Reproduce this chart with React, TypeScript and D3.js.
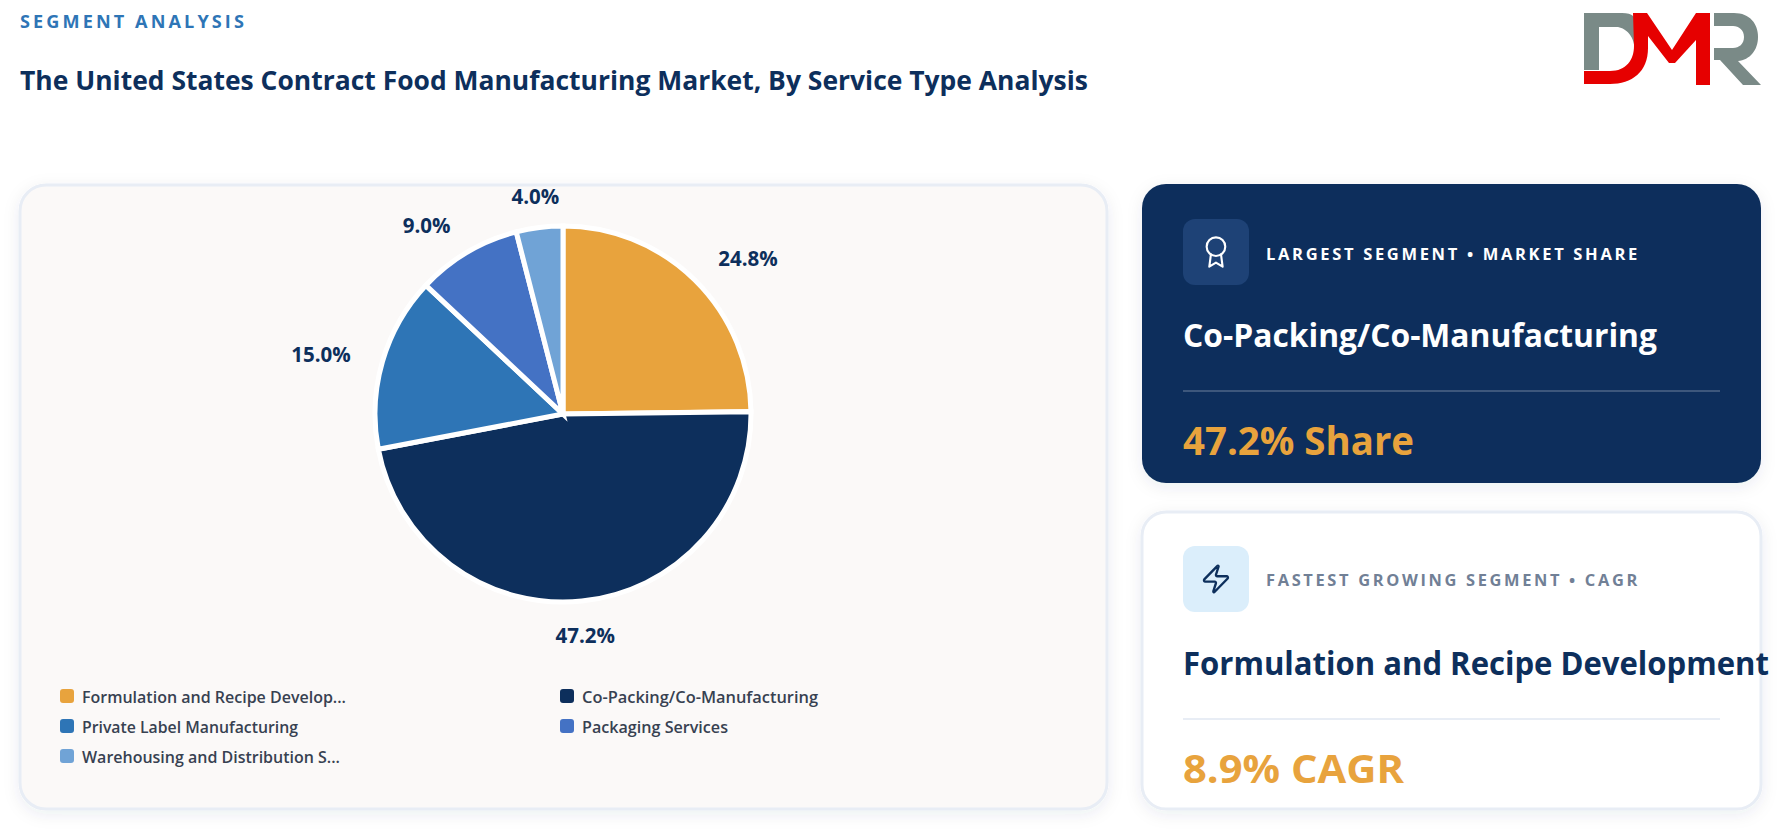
import React from 'react';
import * as d3 from 'd3';

const categories = [
  'Formulation and Recipe Development',
  'Co-Packing/Co-Manufacturing',
  'Private Label Manufacturing',
  'Packaging Services',
  'Warehousing and Distribution Services',
];
const shares = [24.8, 47.2, 15.0, 9.0, 4.0];
const sliceColors = ['#e8a33d', '#0d2f5c', '#2e75b6', '#4472c4', '#70a3d6'];
const legendLabels = [
  'Formulation and Recipe Develop...',
  'Co-Packing/Co-Manufacturing',
  'Private Label Manufacturing',
  'Packaging Services',
  'Warehousing and Distribution S...',
];
const legendWidths = [264, 236, 216, 146, 258];

const FONT = '"Open Sans", "Noto Sans", sans-serif';
const NAVY = '#0d2f5c';
const ORANGE = '#e8a33d';

const cx = 563;
const cy = 414;
const outerR = 188;
const labelR = 221;

const pie = d3
  .pie<number>()
  .value((d) => d)
  .sort(null);
const arc = d3.arc<d3.PieArcDatum<number>>().innerRadius(0).outerRadius(outerR);

// small helper, widths come from the reference since the font is a bit wider
const Label = ({ x, y, w, size, weight = 700, fill, spacing = 0, children }: any) => (
  <text
    x={x}
    y={y}
    textLength={w}
    lengthAdjust="spacingAndGlyphs"
    fontFamily={FONT}
    fontSize={size}
    fontWeight={weight}
    fill={fill}
    letterSpacing={spacing}
  >
    {children}
  </text>
);

const App = () => {
  const arcs = pie(shares);

  return (
    <svg
      width={1786}
      height={831}
      style={{ position: 'absolute', left: 0, top: 0, display: 'block', background: '#fff' }}
    >
      <defs>
        <filter id="cardShadow" x="-5%" y="-5%" width="110%" height="115%">
          <feDropShadow dx="0" dy="4" stdDeviation="8" floodColor="#0d2f5c" floodOpacity="0.08" />
        </filter>
      </defs>

      <Label x={20} y={28} w={227} size={17.5} fill="#2e75b6" spacing={3}>
        SEGMENT ANALYSIS
      </Label>
      <Label x={20} y={90} w={1068} size={27} fill={NAVY}>
        The United States Contract Food Manufacturing Market, By Service Type Analysis
      </Label>

      {/* DMR logo */}
      <g>
        <path
          d="M1584 13H1622C1644 13 1634 32 1634 32V44C1634 44 1632 30 1618 27H1599V70H1584Z"
          fill="#7a8a87"
        />
        <path
          d="M1633 13H1647L1672 50L1696 13H1710V85H1696V40L1675 63H1669L1648 36V48C1648 72 1632 84 1610 84H1584V71H1610C1626 71 1634 60 1634 46Z"
          fill="#e60000"
        />
        <path
          d="M1714 13H1734C1750 13 1758 24 1758 37C1758 50 1750 60 1738 61L1761 85H1743L1720 60H1714V48H1733C1739 48 1744 44 1744 37C1744 30 1739 26 1733 26H1714Z"
          fill="#7a8a87"
        />
      </g>

      {/* pie card */}
      <rect
        x={20}
        y={185}
        width={1087}
        height={624}
        rx={26}
        fill="#fbf9f8"
        stroke="#e8edf5"
        strokeWidth={3}
        filter="url(#cardShadow)"
      />
      <g transform={`translate(${cx},${cy})`}>
        {arcs.map((d, i) => (
          <path key={categories[i]} d={arc(d) || ''} fill={sliceColors[i]} stroke="#fff" strokeWidth={5} />
        ))}
        {arcs.map((d, i) => {
          const mid = (d.startAngle + d.endAngle) / 2;
          const sx = Math.sin(mid);
          const anchor = Math.abs(sx) < 0.2 ? 'middle' : sx > 0 ? 'start' : 'end';
          return (
            <text
              key={i}
              x={labelR * sx}
              y={-labelR * Math.cos(mid)}
              dy="0.45em"
              textAnchor={anchor}
              fontFamily={FONT}
              fontSize={20.5}
              fontWeight={700}
              fill={NAVY}
            >
              {d3.format('.1f')(shares[i])}%
            </text>
          );
        })}
      </g>

      {/* legend */}
      {legendLabels.map((label, i) => {
        const x = i % 2 === 0 ? 60 : 560;
        const y = 690 + Math.floor(i / 2) * 30;
        return (
          <g key={label}>
            <rect x={x} y={y - 1} width={14} height={14} rx={3} fill={sliceColors[i]} />
            <Label x={x + 22} y={y + 13} w={legendWidths[i]} size={15.5} weight={600} fill="#374151">
              {label}
            </Label>
          </g>
        );
      })}

      {/* largest segment card */}
      <rect x={1142} y={184} width={619} height={299} rx={24} fill={NAVY} filter="url(#cardShadow)" />
      <rect x={1183} y={219} width={66} height={66} rx={12} fill="#1e4276" />
      <g
        transform="translate(1200,236) scale(1.33)"
        fill="none"
        stroke="#fff"
        strokeWidth={1.6}
        strokeLinecap="round"
        strokeLinejoin="round"
      >
        <circle cx={12} cy={8} r={7} />
        <path d="M8.21 13.89 7 23l5-3 5 3-1.21-9.12" />
      </g>
      <Label x={1266} y={260} w={374} size={15.5} fill="#fff" spacing={2.5}>
        LARGEST SEGMENT • MARKET SHARE
      </Label>
      <Label x={1183} y={347} w={474} size={33} fill="#fff">
        Co-Packing/Co-Manufacturing
      </Label>
      <line x1={1183} x2={1720} y1={391} y2={391} stroke="#fff" strokeOpacity={0.2} strokeWidth={2} />
      <Label x={1183} y={455} w={231} size={40} fill={ORANGE}>
        47.2% Share
      </Label>

      {/* fastest growing card */}
      <rect
        x={1142}
        y={512}
        width={619}
        height={297}
        rx={24}
        fill="#fff"
        stroke="#e8edf5"
        strokeWidth={3}
        filter="url(#cardShadow)"
      />
      <rect x={1183} y={546} width={66} height={66} rx={12} fill="#dbeefb" />
      <g
        transform="translate(1200,563) scale(1.33)"
        fill="none"
        stroke={NAVY}
        strokeWidth={1.8}
        strokeLinecap="round"
        strokeLinejoin="round"
      >
        <path d="M4 14a1 1 0 0 1-.78-1.63l9.9-10.2a.5.5 0 0 1 .86.46l-1.92 6.02A1 1 0 0 0 13 10h7a1 1 0 0 1 .78 1.63l-9.9 10.2a.5.5 0 0 1-.86-.46l1.92-6.02A1 1 0 0 0 11 14z" />
      </g>
      <Label x={1266} y={586} w={374} size={15.5} fill="#718096" spacing={2.5}>
        FASTEST GROWING SEGMENT • CAGR
      </Label>
      <Label x={1183} y={675} w={586} size={33} fill={NAVY}>
        Formulation and Recipe Development
      </Label>
      <line x1={1183} x2={1720} y1={719} y2={719} stroke="#e8edf5" strokeWidth={2} />
      <Label x={1183} y={783} w={221} size={40} fill={ORANGE}>
        8.9% CAGR
      </Label>
    </svg>
  );
};

export default App;
